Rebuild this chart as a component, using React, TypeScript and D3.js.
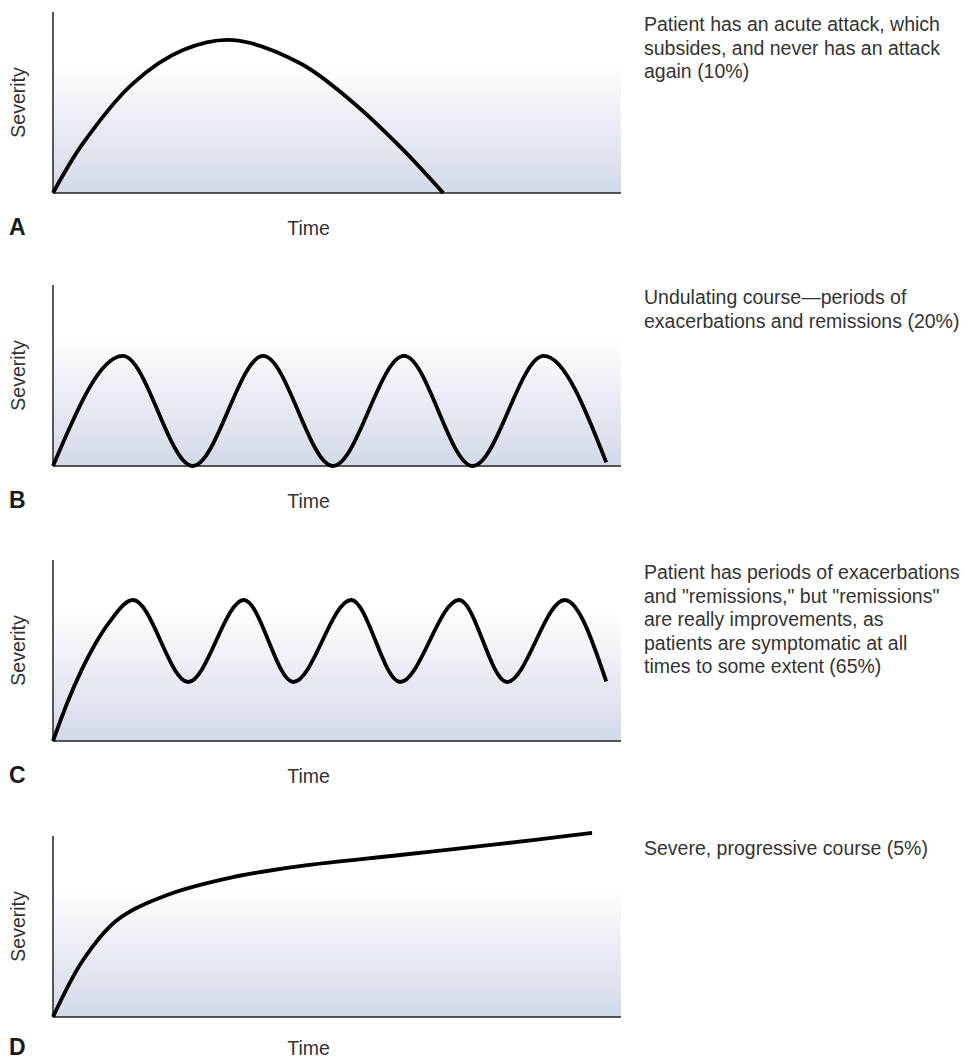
import React from "react";
import * as d3 from "d3";

// ---- Data (abstract units: time 0–100, severity 0–100) ----
const panelLetters = ["A", "B", "C", "D"];
const axisTitleX = "Time";
const axisTitleY = "Severity";

const courseATime = [0, 5.3, 14.1, 22.9, 31.7, 43.5, 52.3, 61.1, 68.7];
const courseASeverity = [0, 27.5, 60.6, 79, 84.5, 71.7, 51.4, 25.6, 0];

const courseBTime = [0, 12.3, 24.6, 37, 49.3, 61.8, 73.9, 86.4, 97.4];
const courseBSeverity = [0, 60.8, 0, 60.8, 0, 60.8, 0, 60.8, 2];

const courseCTime = [0, 2.5, 5, 7.5, 10, 14.1, 23.8, 33.6, 42.3, 52.5, 61.1, 71.5, 79.9, 90.1, 97.4];
const courseCSeverity = [0, 21, 39, 54, 66, 77.9, 32.6, 77.9, 32.6, 77.9, 32.6, 77.9, 32.6, 77.9, 33];

const courseDTime = [0, 5.3, 11.3, 20.1, 31.7, 43.5, 61.1, 78.7, 94.9];
const courseDSeverity = [0, 31.5, 53.6, 67.4, 77.3, 83.4, 89.5, 95.6, 101.7];

const descA = ["Patient has an acute attack, which", "subsides, and never has an attack", "again (10%)"];
const descB = ["Undulating course\u2014periods of", "exacerbations and remissions (20%)"];
const descC = [
  "Patient has periods of exacerbations",
  "and \"remissions,\" but \"remissions\"",
  "are really improvements, as",
  "patients are symptomatic at all",
  "times to some extent (65%)",
];
const descD = ["Severe, progressive course (5%)"];

const courseTimes = [courseATime, courseBTime, courseCTime, courseDTime];
const courseSeverities = [courseASeverity, courseBSeverity, courseCSeverity, courseDSeverity];
const descriptions = [descA, descB, descC, descD];

// ---- Layout ----
const W = 966;
const H = 1059;
const plotLeft = 53;
const plotRight = 621;
const plotHeight = 181;
const gradHeight = 126;
const panelBaselines = [193, 466, 741, 1017];
const FONT = "'Liberation Sans', Arial, Helvetica, sans-serif";
const textColor = "#333";
const curves = [
  d3.curveCatmullRom.alpha(0.5),
  d3.curveMonotoneX,
  d3.curveMonotoneX,
  d3.curveCatmullRom.alpha(0.5),
];

function Panel({ idx }: { idx: number }) {
  const base = panelBaselines[idx];
  const top = base - plotHeight;
  const x = d3.scaleLinear().domain([0, 100]).range([plotLeft, plotRight]);
  const y = d3.scaleLinear().domain([0, 100]).range([base, top]);
  const times = courseTimes[idx];
  const sev = courseSeverities[idx];
  const pts: [number, number][] = times.map((t, i) => [t, sev[i]]);
  const line = d3
    .line<[number, number]>()
    .x((d) => x(d[0]))
    .y((d) => y(d[1]))
    .curve(curves[idx]);
  const gid = `grad${idx}`;
  const desc = descriptions[idx];
  const labelY = Math.min(base + 42, H - 4);
  return (
    <g>
      <defs>
        <linearGradient id={gid} x1="0" y1="0" x2="0" y2="1">
          <stop offset="0%" stopColor="#fdfdfe" />
          <stop offset="100%" stopColor="#d3d9e8" />
        </linearGradient>
      </defs>
      <rect
        x={plotLeft}
        y={base - gradHeight}
        width={plotRight - plotLeft}
        height={gradHeight}
        fill={`url(#${gid})`}
      />
      <line x1={plotLeft} x2={plotLeft} y1={top} y2={base} stroke="#222" strokeWidth={1.5} />
      <line x1={plotLeft} x2={plotRight} y1={base} y2={base} stroke="#222" strokeWidth={1.5} />
      <path d={line(pts) || ""} fill="none" stroke="#000" strokeWidth={3.8} strokeLinejoin="round" />
      <text
        transform={`translate(25,${(top + base) / 2}) rotate(-90)`}
        textAnchor="middle"
        fontFamily={FONT}
        fontSize={19.5}
        fill={textColor}
      >
        {axisTitleY}
      </text>
      <text x={308.5} y={labelY} textAnchor="middle" fontFamily={FONT} fontSize={19.5} fill={textColor}>
        {axisTitleX}
      </text>
      <text x={9} y={labelY} fontFamily={FONT} fontSize={23} fontWeight="bold" fill="#1a1a1a">
        {panelLetters[idx]}
      </text>
      {desc.map((s, i) => (
        <text key={i} x={644} y={top + 19 + i * 23.6} fontFamily={FONT} fontSize={19.5} fill={textColor}>
          {s}
        </text>
      ))}
    </g>
  );
}

export default function App() {
  return (
    <svg
      width={W}
      height={H}
      viewBox={`0 0 ${W} ${H}`}
      style={{ position: "absolute", left: 0, top: 0, display: "block", background: "#fff" }}
    >
      <rect x={0} y={0} width={W} height={H} fill="#fff" />
      {panelLetters.map((_, i) => (
        <Panel key={i} idx={i} />
      ))}
    </svg>
  );
}
